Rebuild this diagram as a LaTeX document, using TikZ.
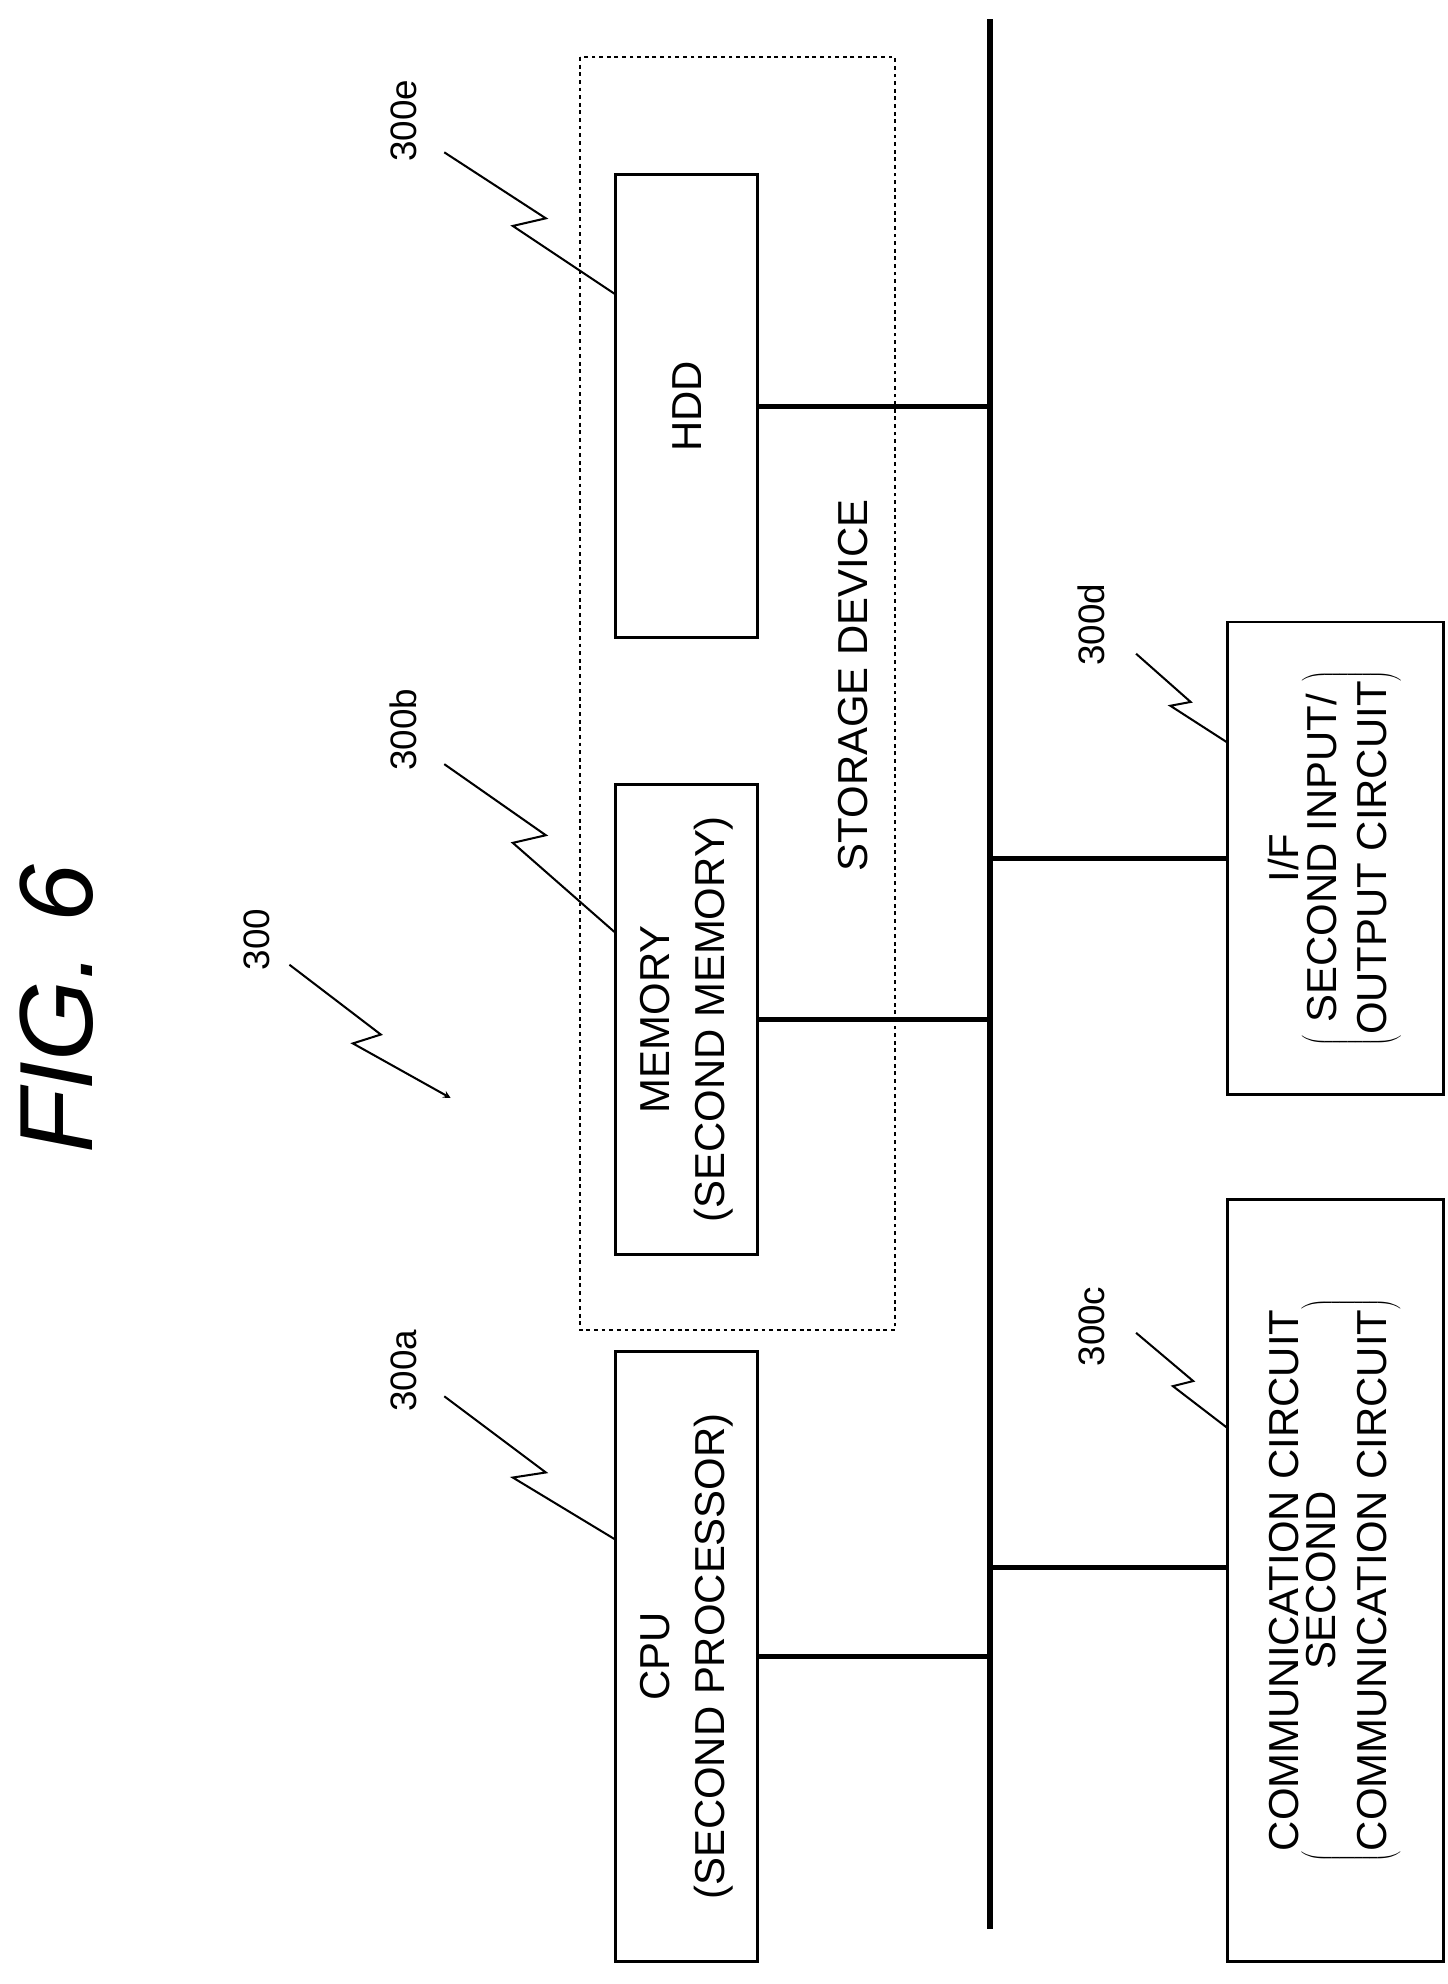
\documentclass[tikz,border=0pt]{standalone}
\usepackage{fontspec}
\setmainfont{Liberation Sans}
\usetikzlibrary{positioning}
\tikzset{
   every path/.style={>=stealth},
   blk/.style={draw,thick,line width=2.2pt,inner sep=0pt,align=center,font=\fontsize{33}{43}\selectfont},
   bus/.style={line width=5pt},
   lnk/.style={line width=4pt},
   lead/.style={line width=1.6pt},
   ref/.style={rotate=90,font=\fontsize{29}{30}\selectfont},
}
\newcommand{\paren}[2]{$\left(\mbox{\begin{tabular}{@{}c@{}}#1\\#2\end{tabular}}\right)$}
\begin{document}
\begin{tikzpicture}[x=1pt,y=-1pt]
        \useasboundingbox (0,0) rectangle (1140,1563);

        \node[rotate=90,font=\fontsize{82}{84}\selectfont\itshape] (fig) at (45,795) {FIG. 6};

        % storage device
        \draw[dashed,line width=1.3pt] (457,45) rectangle (705,1048);
        \node[rotate=90,font=\fontsize{33}{36}\selectfont] (stor) at (672,540) {STORAGE DEVICE};

        \node[blk,minimum width=112,minimum height=365] (hdd) at (541,320) {};
        \node[rotate=90,font=\fontsize{33}{36}\selectfont] at (hdd) {HDD};
        \node[blk,minimum width=112,minimum height=370] (mem) at (541,803) {};
        \node[rotate=90,align=center,font=\fontsize{33}{43}\selectfont] at (mem) {MEMORY\\(SECOND MEMORY)};
        \node[blk,minimum width=112,minimum height=480] (cpu) at (541,1305) {};
        \node[rotate=90,align=center,font=\fontsize{33}{43}\selectfont] at (cpu) {CPU\\(SECOND PROCESSOR)};
        \node[blk,minimum width=170,minimum height=372] (if) at (1052,676) {};
        \node[rotate=90,align=center,font=\fontsize{33}{40}\selectfont] at (if) {I/F\\\paren{SECOND INPUT/}{OUTPUT CIRCUIT}};
        \node[blk,minimum width=170,minimum height=600] (com) at (1052,1245) {};
        \node[rotate=90,align=center,font=\fontsize{33}{40}\selectfont] at (com) {COMMUNICATION CIRCUIT\\\paren{SECOND}{COMMUNICATION CIRCUIT}};

        % bus
        \coordinate (bt) at (780,15);
        \coordinate (bb) at (780,1520);
        \draw[bus] (bt) -- (bb);
        \draw[lnk] (hdd.east) -- (hdd.east -| bt);
        \draw[lnk] (mem.east) -- (mem.east -| bt);
        \draw[lnk] (cpu.east) -- (cpu.east -| bt);
        \draw[lnk] (if.west) -- (if.west -| bt);
        \draw[lnk] (com.west |- 0,1235) -- (780,1235);

        % reference labels
        \node[ref] (r300e) at (318,95) {300e};
        \node[ref] (r300b) at (318,575) {300b};
        \node[ref] (r300) at (202,740) {300};
        \node[ref] (r300a) at (318,1080) {300a};
        \node[ref] (r300d) at (860,492) {300d};
        \node[ref] (r300c) at (860,1045) {300c};

        \draw[lead] (350,120) -- (430,172) -- (404,178) -- (485,232);
        \draw[lead] (350,602) -- (430,658) -- (404,664) -- (485,735);
        \draw[lead] (350,1100) -- (430,1160) -- (404,1164) -- (485,1213);
        \draw[lead] (895,515) -- (938,553) -- (922,556) -- (967,585);
        \draw[lead] (895,1050) -- (940,1088) -- (924,1092) -- (967,1125);
        \draw[lead,->] (228,760) -- (300,815) -- (278,822) -- (355,865);
      \end{tikzpicture}
\end{document}
